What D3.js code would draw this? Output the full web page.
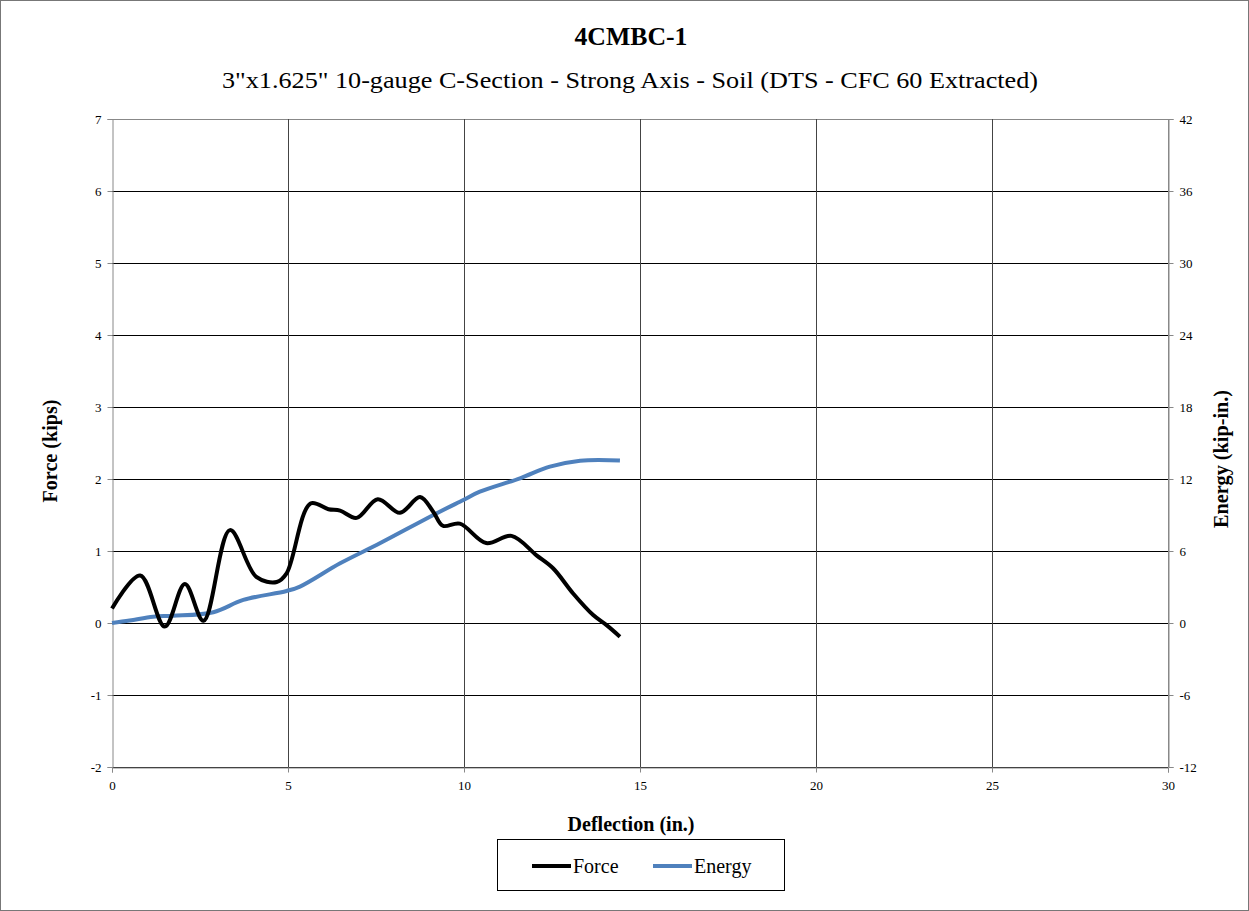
<!DOCTYPE html>
<html>
<head>
<meta charset="utf-8">
<script src="https://cdn.jsdelivr.net/npm/d3@7"></script>
<style>
  body { margin: 0; background: #fff; }
  text { font-family: "Times New Roman", Times, "Liberation Serif", "DejaVu Serif", serif; }
</style>
</head>
<body>
<svg id="chart" width="1249" height="911"></svg>
<script>
// data
var forceX = [0, 0.8, 1.5, 2.07, 2.6, 3.35, 4.1, 4.68, 4.96, 5.64, 6.15, 6.48, 6.95, 7.55, 8.18, 8.75, 9.12, 9.4, 9.88, 10.63, 11.35, 12.06, 12.53, 13.1, 13.67, 14.05, 14.43];
var forceY = [0.2, 0.66, -0.05, 0.54, 0.03, 1.29, 0.64, 0.57, 0.69, 1.66, 1.58, 1.56, 1.46, 1.72, 1.53, 1.75, 1.55, 1.35, 1.38, 1.11, 1.21, 0.94, 0.76, 0.41, 0.11, -0.03, -0.19];
var energyX = [0, 0.5, 1.17, 1.74, 2.88, 3.73, 4.96, 5.34, 6.48, 7.61, 9.13, 9.98, 10.45, 11.59, 12.44, 13.3, 14.43];
var energyY = [0, 0.2, 0.53, 0.6, 0.9, 1.92, 2.67, 3.03, 4.97, 6.64, 9.0, 10.25, 10.94, 12.06, 13.03, 13.53, 13.55];
var xTicks = [0, 5, 10, 15, 20, 25, 30];
var leftTicks = [-2, -1, 0, 1, 2, 3, 4, 5, 6, 7];
var rightTicks = [-12, -6, 0, 6, 12, 18, 24, 30, 36, 42];
var seriesNames = ["Force", "Energy"];

var svg = d3.select("#chart");
var L = 112, R = 1168, T = 119, B = 767;

var x = d3.scaleLinear().domain([0, 30]).range([L, R]);
var y = d3.scaleLinear().domain([-2, 7]).range([B, T]);
var y2 = d3.scaleLinear().domain([-12, 42]).range([B, T]);
var plain = function(d){ return String(d); };

// outer border
svg.append("rect").attr("x", 0.5).attr("y", 0.5).attr("width", 1248).attr("height", 910)
  .attr("fill", "#fff").attr("stroke", "#777");

// grid
svg.append("g").selectAll("line").data(leftTicks).enter().append("line")
  .attr("x1", L).attr("x2", R)
  .attr("y1", function(d){ return Math.round(y(d)) + 0.5; })
  .attr("y2", function(d){ return Math.round(y(d)) + 0.5; })
  .attr("stroke", function(d){ return d == 7 ? "#888" : "#000"; }).attr("stroke-width", 1);
svg.append("g").selectAll("line").data(xTicks.slice(1)).enter().append("line")
  .attr("y1", T).attr("y2", B)
  .attr("x1", function(d){ return Math.round(x(d)) + 0.5; })
  .attr("x2", function(d){ return Math.round(x(d)) + 0.5; })
  .attr("stroke", function(d){ return d == 30 ? "#888" : "#444"; }).attr("stroke-width", 1);

// axes
var xAxis = svg.append("g").attr("transform", "translate(0," + (B + 0.5) + ")")
  .call(d3.axisBottom(x).tickValues(xTicks).tickFormat(plain).tickSize(5).tickPadding(6));
var yAxis = svg.append("g").attr("transform", "translate(" + (L + 0.5) + ",0)")
  .call(d3.axisLeft(y).tickValues(leftTicks).tickFormat(plain).tickSize(5).tickPadding(6));
var yAxis2 = svg.append("g").attr("transform", "translate(" + (R + 0.5) + ",0)")
  .call(d3.axisRight(y2).tickValues(rightTicks).tickFormat(plain).tickSize(5).tickPadding(6));
[xAxis, yAxis, yAxis2].forEach(function(g){
  g.attr("font-family", null);
  g.selectAll("path").attr("stroke", "#888");
  g.selectAll("line").attr("stroke", "#888");
  g.selectAll("text").attr("font-size", 13).attr("fill", "#000");
});
xAxis.selectAll("text").attr("dy", "0.9em");

// lines
var forceData = forceX.map(function(d, i){ return [d, forceY[i]]; });
var energyData = energyX.map(function(d, i){ return [d, energyY[i]]; });

svg.append("path").datum(energyData)
  .attr("fill", "none").attr("stroke", "#4f81bd").attr("stroke-width", 4)
  .attr("d", d3.line().curve(d3.curveCatmullRom.alpha(0.5))
    .x(function(d){ return x(d[0]); }).y(function(d){ return y2(d[1]); }));

svg.append("path").datum(forceData)
  .attr("fill", "none").attr("stroke", "#000").attr("stroke-width", 4)
  .attr("d", d3.line().curve(d3.curveCatmullRom.alpha(0.5))
    .x(function(d){ return x(d[0]); }).y(function(d){ return y(d[1]); }));

// titles
svg.append("text").attr("x", 631).attr("y", 45).attr("text-anchor", "middle")
  .attr("font-size", 25).attr("font-weight", "bold")
  .attr("textLength", 113).attr("lengthAdjust", "spacingAndGlyphs").text("4CMBC-1");
svg.append("text").attr("x", 630).attr("y", 88).attr("text-anchor", "middle")
  .attr("font-size", 24).attr("textLength", 816).attr("lengthAdjust", "spacingAndGlyphs")
  .text("3\"x1.625\" 10-gauge C-Section - Strong Axis - Soil (DTS - CFC 60 Extracted)");
svg.append("text").attr("x", 631).attr("y", 831).attr("text-anchor", "middle")
  .attr("font-size", 20).attr("font-weight", "bold")
  .attr("textLength", 127).attr("lengthAdjust", "spacingAndGlyphs").text("Deflection (in.)");
svg.append("text").attr("transform", "translate(57,451) rotate(-90)").attr("text-anchor", "middle")
  .attr("font-size", 20).attr("font-weight", "bold")
  .attr("textLength", 103).attr("lengthAdjust", "spacingAndGlyphs").text("Force (kips)");
svg.append("text").attr("transform", "translate(1228,459) rotate(-90)").attr("text-anchor", "middle")
  .attr("font-size", 20).attr("font-weight", "bold")
  .attr("textLength", 138).attr("lengthAdjust", "spacingAndGlyphs").text("Energy (kip-in.)");

// legend
var lg = svg.append("g");
lg.append("rect").attr("x", 497.5).attr("y", 839.5).attr("width", 287).attr("height", 51)
  .attr("fill", "#fff").attr("stroke", "#000");
var colors = ["#000", "#4f81bd"];
var lx = [532, 653];
seriesNames.forEach(function(n, i){
  lg.append("line").attr("x1", lx[i]).attr("x2", lx[i] + 39).attr("y1", 866).attr("y2", 866)
    .attr("stroke", colors[i]).attr("stroke-width", 4);
  lg.append("text").attr("x", lx[i] + 41).attr("y", 873).attr("font-size", 20).text(n);
});
</script>
</body>
</html>
